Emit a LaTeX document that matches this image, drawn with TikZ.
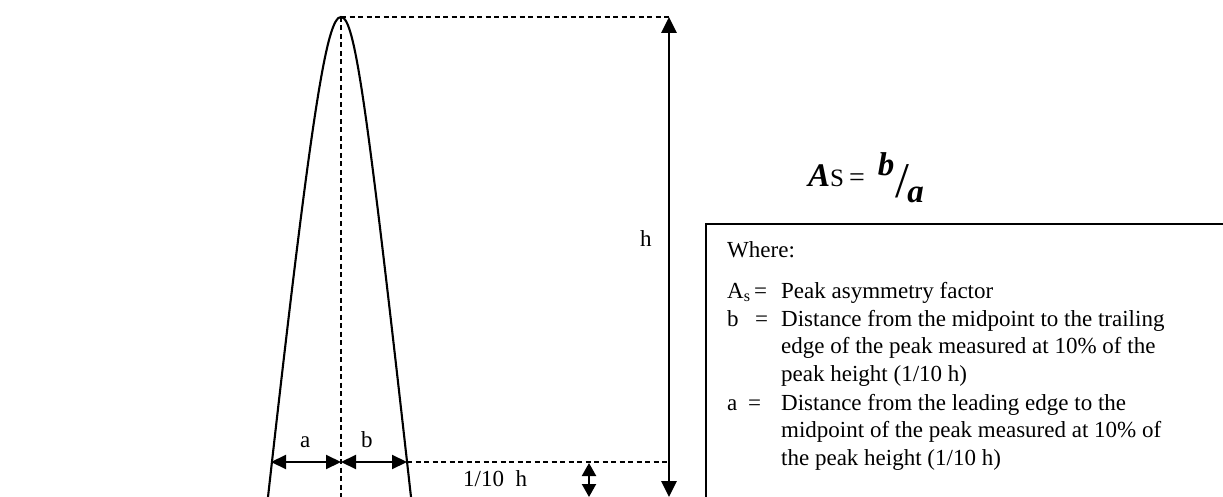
\documentclass[tikz,border=0pt]{standalone}
\usepackage{fontspec}
\setmainfont{Liberation Serif}
\usetikzlibrary{arrows.meta}
\begin{document}
\begin{tikzpicture}[x=1pt,y=-1pt,
  curve/.style={line width=2.1pt},
  dashln/.style={line width=2pt,dash pattern=on 5pt off 3.5pt},
  dimarrow/.style={line width=2.1pt,{Triangle[length=15pt,width=14pt]}-{Triangle[length=15pt,width=14pt]}},
  harrow/.style={line width=2.8pt,{Triangle[length=16pt,width=15pt]}-{Triangle[length=16pt,width=15pt]}},
  smallarrow/.style={line width=2.1pt,{Triangle[length=13pt,width=14pt]}-{Triangle[length=13pt,width=14pt]}},
  lbl/.style={inner sep=0pt,anchor=base west,font=\fontsize{23}{27.8}\selectfont},
  boxline/.style={line width=1.8pt}]
\useasboundingbox (0,0) rectangle (1223,497);
\clip (0,0) rectangle (1223,497);
% key points
\coordinate (peak) at (341,17);
\coordinate (topR) at (669,17);
\coordinate (botR) at (669,497);
\coordinate (botM) at (341,497);
\coordinate (tenL) at (271,462);
\coordinate (tenM) at (341,462);
\coordinate (tenR) at (407,462);
\coordinate (tenRR) at (669,462);
\coordinate (smT) at (589,463);
\coordinate (smB) at (589,497);
\coordinate (lbot) at (268,497);
\coordinate (rbot) at (411,497);
% peak curve
\draw[curve] (lbot) .. controls (312,105) and (327,17) .. (peak)
  .. controls (355,17) and (367,105) .. (rbot);
% dashed guides
\draw[dashln] (peak) -- (topR);
\draw[dashln] (peak) -- (botM);
\draw[dashln] (tenR) -- (tenRR);
% dimension arrows
\draw[harrow] (topR) -- (botR);
\draw[dimarrow] (tenL) -- (tenM);
\draw[dimarrow] (tenM) -- (tenR);
\draw[smallarrow] (smT) -- (smB);
% labels
\node[lbl] (hl) at (640,247) {h};
\node[lbl] (al) at (300,447) {a};
\node[lbl] (bl) at (361,447) {b};
\node[lbl] (tl) at (463,486) {1/10\ \ h};
% formula
\node[inner sep=0pt,anchor=base west,font=\fontsize{33}{36}\selectfont] (form) at (808,187)
  {\textbf{\textit{A}}{\fontsize{25}{26}\selectfont S}\kern5pt{\fontsize{28}{30}\selectfont =}\kern13pt\raisebox{11pt}{\textbf{\textit{b}}}\kern1pt{\fontsize{50}{50}\selectfont\raisebox{-10pt}{/}}\kern-2pt\raisebox{-16pt}{\textbf{\textit{a}}}};
% box
\coordinate (bxTL) at (706,224);
\draw[boxline] (1235,224) -- (bxTL) -- (706,510);
\node[lbl] (where) at (727,257) {Where:};
\node[lbl] (l1a) at (727,298) {A\textsubscript{s}};
\node[lbl] (l1e) at (754,298) {=};
\node[lbl] (l1t) at (781,298) {Peak asymmetry factor};
\node[lbl] (l2a) at (727,326.7) {b};
\node[lbl] (l2e) at (755,326.7) {=};
\node[lbl] (l2t) at (781,326.7) {Distance from the midpoint to the trailing};
\node[lbl] (l3t) at (781,353.5) {edge of the peak measured at 10\% of the};
\node[lbl] (l4t) at (781,381.7) {peak height (1/10 h)};
\node[lbl] (l5a) at (727,410) {a};
\node[lbl] (l5e) at (748,410) {=};
\node[lbl] (l5t) at (781,410) {Distance from the leading edge to the};
\node[lbl] (l6t) at (781,437) {midpoint of the peak measured at 10\% of};
\node[lbl] (l7t) at (781,465) {the peak height (1/10 h)};
\end{tikzpicture}
\end{document}
